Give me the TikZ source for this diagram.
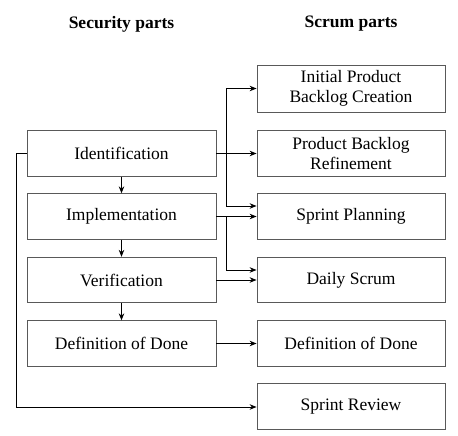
\documentclass[tikz,border=0pt]{standalone}
\usepackage{fontspec}
\setmainfont{Liberation Serif}
\usetikzlibrary{arrows.meta}
\begin{document}
\begin{tikzpicture}[x=1pt,y=-1pt,
  every node/.style={font=\fontsize{17.5}{19.5}\selectfont},
  box/.style={draw=black!65,line width=0.8pt,minimum width=189pt,minimum height=45.5pt,inner sep=0pt,align=center},
  head/.style={font=\fontsize{17.5}{19.5}\selectfont\bfseries},
  arr/.style={draw=black,line width=1pt,-{Stealth[length=7pt,width=5.5pt]}}]
\useasboundingbox (0,0) rectangle (458,436);
\node[head] (hs) at (121.5,24) {Security parts};
\node[head] (hc) at (351,24) {Scrum parts};
% left
\node[box] (id) at (121.5,153.5) {Identification};
\node[box] (im) at (121.5,216.5) {Implementation};
\node[box] (ve) at (121.5,280) {Verification};
\node[box] (dl) at (121.5,343.5) {Definition of Done};
% right
\node[box,minimum width=188pt,minimum height=47pt] (ip) at (351,88.5) {Initial Product\\Backlog Creation};
\node[box,minimum width=188pt] (pb) at (351,153.5) {Product Backlog\\Refinement};
\node[box,minimum width=188pt] (sp) at (351,216.5) {Sprint Planning};
\node[box,minimum width=188pt] (ds) at (351,280) {Daily Scrum};
\node[box,minimum width=188pt] (dr) at (351,343.5) {Definition of Done};
\node[box,minimum width=188pt] (sr) at (351,406.5) {Sprint Review};
% vertical arrows
\draw[arr] (id) -- (im);
\draw[arr] (im) -- (ve);
\draw[arr] (ve) -- (dl);
% horizontal
\coordinate (b1) at (226,153.5);
\coordinate (b2) at (226,216.5);
\draw[arr] (id) -- (pb);
\draw[arr] (b1) |- (ip.west);
\draw[arr] (b1) |- ([yshift=10.5pt]sp.west);
\draw[arr] (im) -- (sp);
\draw[arr] (b2) |- ([yshift=10pt]ds.west);
\draw[arr] (ve) -- (ds);
\draw[arr] (dl) -- (dr);
\coordinate (lc) at (16,407);
\draw[arr] (id.west) -| (lc) -- (sr.west |- lc);
\end{tikzpicture}
\end{document}
